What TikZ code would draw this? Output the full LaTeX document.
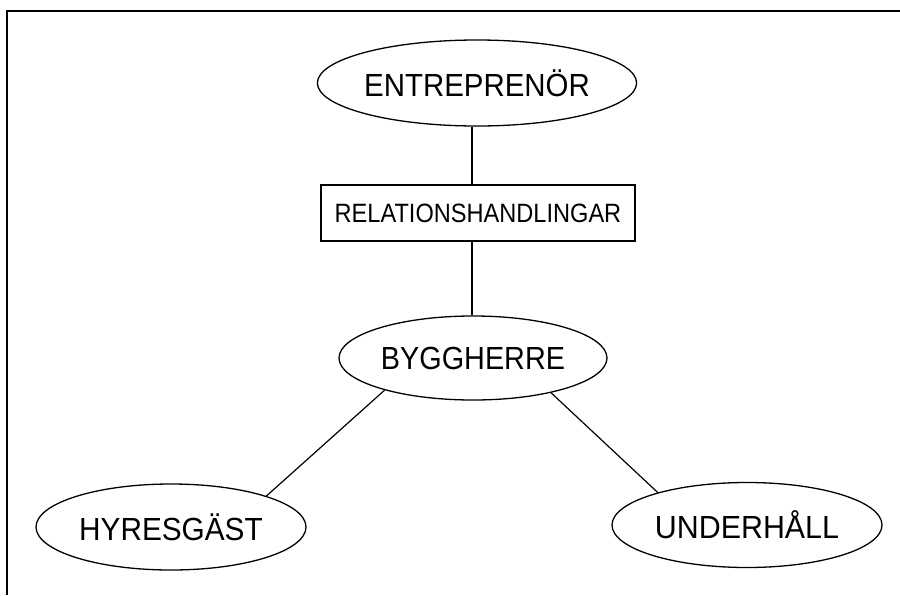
\documentclass[tikz,border=0pt]{standalone}
\usepackage{fontspec}
\setmainfont{Liberation Sans}
\usetikzlibrary{shapes.geometric}
% horizontally condensed label text
\newcommand{\narrow}[2]{\scalebox{#1}[1]{#2}}
\tikzset{
  entity/.style={draw, ellipse, line width=1.3pt, inner sep=0pt,
    minimum width=270pt, minimum height=86pt, font=\fontsize{32}{32}\selectfont},
  relbox/.style={draw, rectangle, line width=1.3pt, inner sep=0pt,
    minimum width=314pt, minimum height=56pt, font=\fontsize{26.5}{26.5}\selectfont},
  link/.style={line width=1.2pt},
  frameline/.style={line width=2.2pt}
}
\begin{document}
\begin{tikzpicture}[x=1pt, y=-1pt]
  \useasboundingbox (0,0) rectangle (900,595);
  % open frame: top and left edges
  \draw[frameline] (900,11) -- (7,11) -- (7,595);

  \node[entity] (ent) at (477,83) {\narrow{0.92}{ENTREPRENÖR}};
  \node[relbox] (rel) at (478,213) {\narrow{0.89}{RELATIONSHANDLINGAR}};
  \node[entity, minimum height=84pt, minimum width=268pt] (byg) at (473,358) {\narrow{0.90}{BYGGHERRE}};
  \node[entity] (hyr) at (171,527) {\narrow{0.93}{HYRESGÄST}};
  \node[entity, minimum height=85pt] (und) at (747,525) {\narrow{0.95}{UNDERHÅLL}};

  % vertical spine through the relation box
  \coordinate (spine) at (472,0);
  \draw[link] (ent.south -| spine) -- (rel.north -| spine);
  \draw[link] (rel.south -| spine) -- (byg.north -| spine);
  % branches to the lower entities
  \draw[link] (byg.200) -- (hyr.18);
  \draw[link] (byg.336) -- (und.160);
\end{tikzpicture}
\end{document}
